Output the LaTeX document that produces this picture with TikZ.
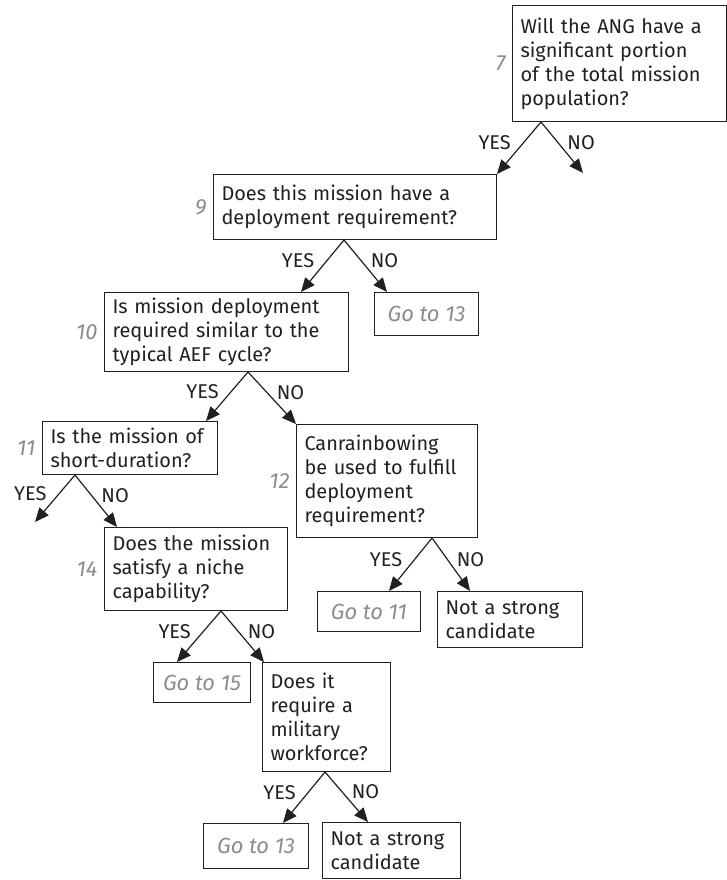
\documentclass[tikz,border=0pt]{standalone}
\usepackage{fontspec}
\setmainfont{Fira Sans}
\usetikzlibrary{arrows.meta,positioning}
\definecolor{numgray}{HTML}{8C8C8C}
\definecolor{inkblack}{HTML}{231F20}

\begin{document}
\begin{tikzpicture}
    [x=1bp, y=-1bp,
      every node/.style={font=\fontsize{20}{24}\selectfont, text=inkblack},
      qbox/.style={draw=inkblack, line width=1bp, anchor=north west, align=left,
        inner xsep=8bp, inner ysep=3bp},
      gotobox/.style={qbox, inner xsep=4bp, align=center, text=numgray,
        font=\fontsize{22}{24}\selectfont\itshape},
      num/.style={text=numgray, font=\fontsize{22}{24}\selectfont\itshape},
      arr/.style={-{Triangle[length=14bp,width=12bp]}, line width=1.2bp, draw=inkblack},
      yes/.style={pos=.4, left=11bp, inner sep=1bp},
      no/.style={pos=.4, right=8bp, inner sep=1bp}]
    \useasboundingbox (0,0) rectangle (727,880);

    % questions
    \node[qbox, text width=198bp, minimum height=116bp] (q7) at (512,5)
      {Will the ANG have a\\significant portion\\of the total mission\\population?};
    \node[qbox, text width=267bp, minimum height=65bp] (q9) at (213,174)
      {Does this mission have a\\deployment requirement?};
    \node[qbox, text width=228bp, minimum height=79bp] (q10) at (104,292)
      {Is mission deployment\\required similar to the\\typical AEF cycle?};
    \node[qbox, text width=159bp, minimum height=53bp] (q11) at (42,421)
      {Is the mission of\\short-duration?};
    \node[qbox, text width=165bp, minimum height=113bp] (q12) at (296,424)
      {Canrainbowing\\be used to fulfill\\deployment\\requirement?};
    \node[qbox, text width=167bp, minimum height=83bp] (q14) at (104,527)
      {Does the mission\\satisfy a niche\\capability?};
    \node[qbox, text width=112bp, minimum height=109bp] (q16) at (262,662)
      {Does it\\require a\\military\\workforce?};

    % outcomes
    \node[gotobox, minimum width=104bp, minimum height=43bp] (goto13a) at (374,292) {Go to 13};
    \node[gotobox, minimum width=103bp, minimum height=40bp] (goto11) at (317,591) {Go to 11};
    \node[qbox, text width=129bp, minimum height=56bp] (weak1) at (437,591)
      {Not a strong\\candidate};
    \node[gotobox, minimum width=97bp, minimum height=40bp] (goto15) at (153,662) {Go to 15};
    \node[gotobox, minimum width=105bp, minimum height=45bp] (goto13b) at (203,823) {Go to 13};
    \node[qbox, text width=122bp, minimum height=56bp] (weak2) at (322,822)
      {Not a strong\\candidate};

    % step numbers
    \node[num, left=3bp of q7] {7};
    \node[num, left=3bp of q9] {9};
    \node[num, left=3bp of q10] {10};
    \node[num, left=3bp of q11] {11};
    \node[num, left=3bp of q12] {12};
    \node[num, left=3bp of q14] {14};

    % open ends
    \coordinate (q7no) at (583,173);
    \coordinate (q11yes) at (35,522);

    % branches
    \draw[arr] ([xshift=29bp]q7.south west) -- node[yes] {YES} (q9.north east);
    \draw[arr] ([xshift=29bp]q7.south west) -- node[no] {NO} (q7no);
    \draw[arr] ([xshift=131bp]q9.south west) -- node[yes] {YES} ([xshift=-48bp]q10.north east);
    \draw[arr] ([xshift=131bp]q9.south west) -- node[no] {NO} ([xshift=13bp]goto13a.north west);
    \draw[arr] ([xshift=144bp]q10.south west) -- node[yes] {YES} ([xshift=-12bp]q11.north east);
    \draw[arr] ([xshift=144bp]q10.south west) -- node[no] {NO} (q12.north west);
    \draw[arr] ([xshift=33bp]q11.south west) -- node[yes] {YES} (q11yes);
    \draw[arr] ([xshift=33bp]q11.south west) -- node[no] {NO} ([xshift=13bp]q14.north west);
    \draw[arr] ([xshift=136bp]q12.south west) -- node[yes] {YES} ([xshift=-32bp]goto11.north east);
    \draw[arr] ([xshift=136bp]q12.south west) -- node[no] {NO} ([xshift=33bp]weak1.north west);
    \draw[arr] ([xshift=117bp]q14.south west) -- node[yes] {YES} ([xshift=24bp]goto15.north west);
    \draw[arr] ([xshift=117bp]q14.south west) -- node[no] {NO} ([xshift=2bp]q16.north west);
    \draw[arr] ([xshift=63bp]q16.south west) -- node[yes] {YES} ([xshift=80bp]goto13b.north west);
    \draw[arr] ([xshift=63bp]q16.south west) -- node[no] {NO} ([xshift=46bp]weak2.north west);
  \end{tikzpicture}
\end{document}
